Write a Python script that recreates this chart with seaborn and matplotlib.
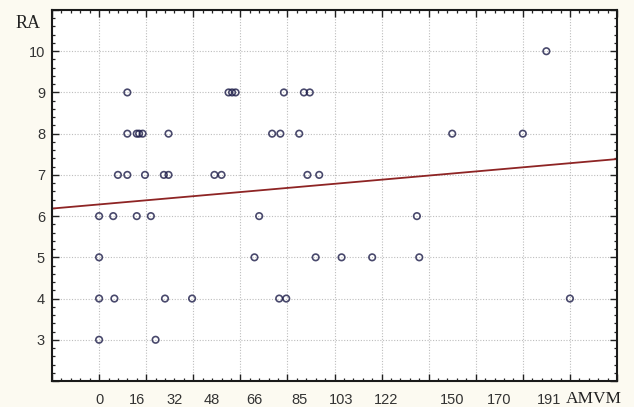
import matplotlib
matplotlib.use("Agg")
import matplotlib.pyplot as plt
import seaborn as sns
import numpy as np
import pandas as pd
from matplotlib.ticker import MultipleLocator

# AMVM values grouped by RA score
amvm_ra10 = [190]
amvm_ra9 = [12, 55, 56.5, 58, 78.5, 87, 89.5]
amvm_ra8 = [12, 16, 17, 18.5, 29.5, 73.5, 77, 85, 150, 180]
amvm_ra7 = [8, 12, 19.5, 27.5, 29.5, 49, 52, 88.5, 93.5]
amvm_ra6 = [0, 6, 16, 22, 68, 135]
amvm_ra5 = [0, 66, 92, 103, 116, 136]
amvm_ra4 = [0, 6.5, 28, 39.5, 76.5, 79.5, 200]
amvm_ra3 = [0, 24]

x_tick_values = [0, 16, 32, 48, 66, 85, 103, 122, 150, 170, 191]
x_tick_labels = ["0", "16", "32", "48", "66", "85", "103", "122", "150", "170", "191"]
y_tick_values = [3, 4, 5, 6, 7, 8, 9, 10]

groups = {10: amvm_ra10, 9: amvm_ra9, 8: amvm_ra8, 7: amvm_ra7,
          6: amvm_ra6, 5: amvm_ra5, 4: amvm_ra4, 3: amvm_ra3}
rows = [(x, ra) for ra, xs in groups.items() for x in xs]
df = pd.DataFrame(rows, columns=["AMVM", "RA"])

sns.set_theme(style="white")
plt.rcParams["font.family"] = ["Liberation Sans", "DejaVu Sans"]

fig = plt.figure(figsize=(6.34, 4.07), dpi=100, facecolor="#fcfaf1")
ax = fig.add_axes([52 / 634, 1 - 381 / 407, (617 - 52) / 634, (381 - 10) / 407])
ax.set_facecolor("white")

ax.set_xlim(-20, 220)
ax.set_ylim(2, 11)

sns.regplot(data=df, x="AMVM", y="RA", ax=ax, ci=None, truncate=False,
            scatter_kws=dict(s=22, facecolors="none", edgecolors="#1c1c48",
                             linewidths=1.2, zorder=3),
            line_kws=dict(color="#8e2424", lw=1.3, zorder=2))

ax.set_xlim(-20, 220)
ax.set_ylim(2, 11)

# grid and tick marks
ax.xaxis.set_major_locator(MultipleLocator(20))
ax.xaxis.set_minor_locator(MultipleLocator(4))
ax.yaxis.set_major_locator(MultipleLocator(1))
ax.yaxis.set_minor_locator(MultipleLocator(0.2))
ax.grid(True, which="major", color="#bdbdbd", linestyle=(0, (1, 1.5)), lw=0.8)
ax.tick_params(axis="both", which="both", direction="in",
               top=True, right=True, bottom=True, left=True, colors="#222222")
ax.tick_params(which="major", length=5, width=1.0)
ax.tick_params(which="minor", length=2.5, width=0.9)
ax.set_xticklabels([])
ax.set_yticks(np.arange(2, 12, 1))
ax.set_yticklabels(["" if v not in y_tick_values else str(v) for v in range(2, 12)],
                   fontsize=10.5, color="#333333")
ax.tick_params(axis="y", which="major", pad=5)
ax.set_xlabel("")
ax.set_ylabel("")

for s in ax.spines.values():
    s.set_color("#1a1a1a")
    s.set_linewidth(1.5)

# labelled positions on the AMVM axis
sec = ax.secondary_xaxis("bottom")
sec.set_xticks(x_tick_values, x_tick_labels)
sec.tick_params(length=0, pad=9, labelsize=10.5, labelcolor="#333333")
sec.spines["bottom"].set_visible(False)

fig.text(28 / 634, 1 - 28 / 407, "RA", ha="center", va="baseline",
         fontsize=13, family=["Liberation Serif"], color="#222222")
fig.text(594 / 634, 1 - 403 / 407, "AMVM", ha="center", va="baseline",
         fontsize=12.5, family=["Liberation Serif"], color="#222222")

fig.savefig("out.png", dpi=100, facecolor=fig.get_facecolor())
